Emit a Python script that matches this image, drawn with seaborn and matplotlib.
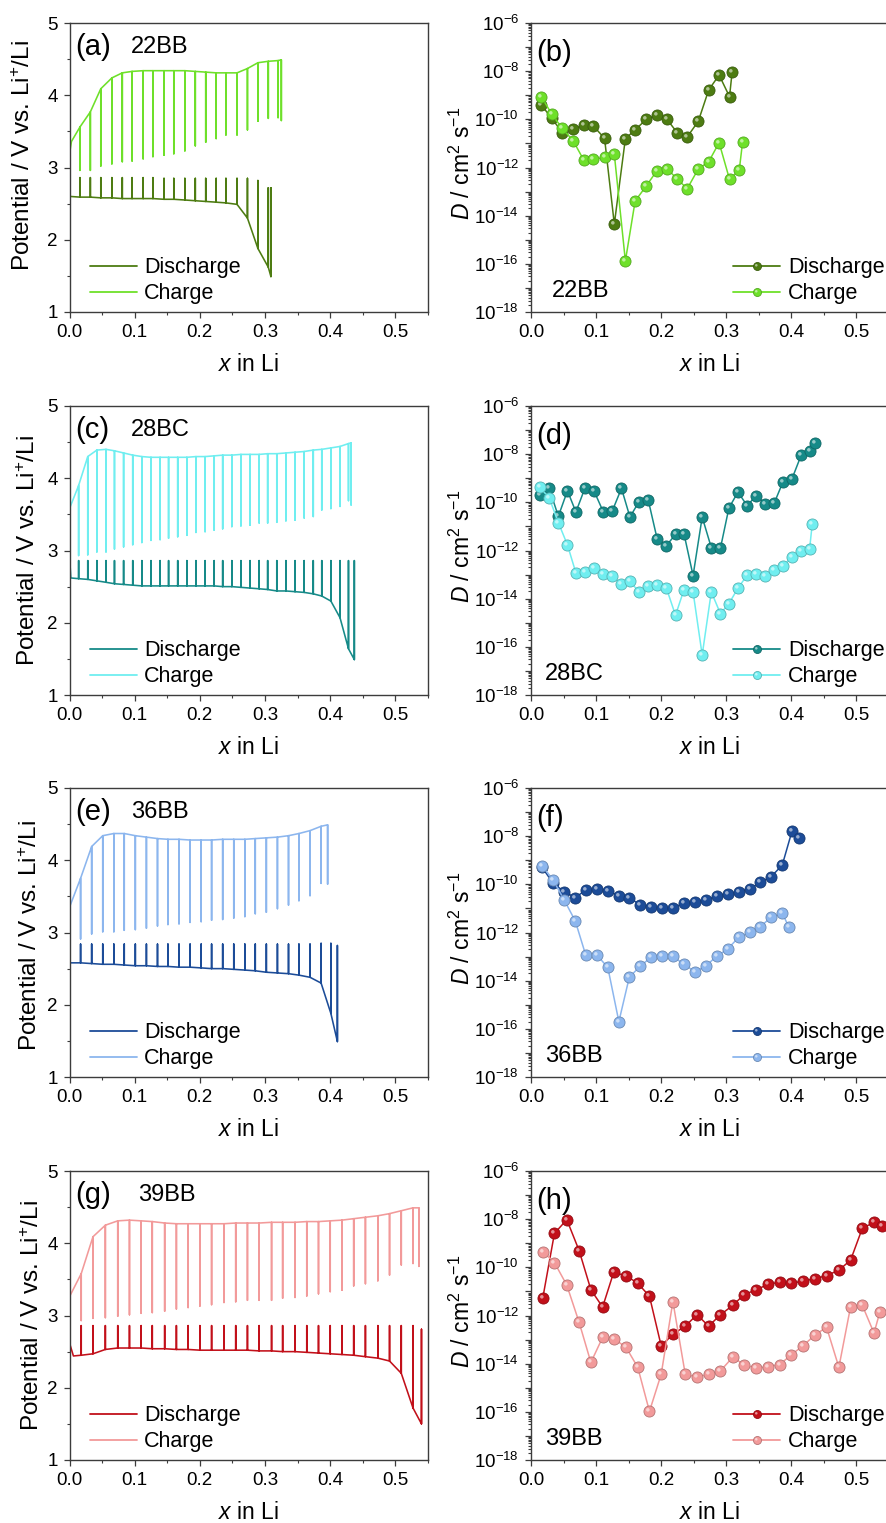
import numpy as np
import matplotlib
matplotlib.use("Agg")
import matplotlib.pyplot as plt
from matplotlib import ticker
from matplotlib.path import Path
from matplotlib.lines import Line2D
from matplotlib.legend_handler import HandlerTuple
from matplotlib.colors import to_rgb
import seaborn as sns

sns.set_theme(style="ticks")
plt.rcParams["font.family"] = ["Liberation Sans", "DejaVu Sans"]
plt.rcParams["mathtext.fontset"] = "custom"
plt.rcParams["mathtext.rm"] = "Liberation Sans"
plt.rcParams["mathtext.it"] = "Liberation Sans:italic"
plt.rcParams["mathtext.bf"] = "Liberation Sans:bold"
plt.rcParams["text.color"] = "black"
plt.rcParams["axes.labelcolor"] = "black"

# ---------------------------------------------------------------- 22BB
x_dis_22 = [0.016, 0.032, 0.048, 0.065, 0.081, 0.096, 0.113, 0.128, 0.145, 0.160,
            0.177, 0.193, 0.209, 0.225, 0.240, 0.257, 0.273, 0.289, 0.305, 0.309]
x_ch_22 = [0.016, 0.032, 0.048, 0.065, 0.081, 0.096, 0.113, 0.128, 0.145, 0.160,
           0.177, 0.193, 0.209, 0.225, 0.240, 0.257, 0.273, 0.289, 0.305, 0.320, 0.325]
logd_dis_22 = [-9.41, -9.96, -10.55, -10.40, -10.24, -10.28, -10.79, -14.35, -10.80, -10.44,
               -10.00, -9.83, -10.00, -10.57, -10.73, -10.08, -8.78, -8.16, -9.06, -8.03]
logd_ch_22 = [-9.06, -9.79, -10.37, -10.90, -11.69, -11.66, -11.58, -11.45, -15.88, -13.39,
              -12.77, -12.15, -12.05, -12.49, -12.88, -12.06, -11.76, -10.97, -12.49, -12.10, -10.95]
start_dis_22 = ([0.0], [2.60])
v_dis_base_22 = [2.59, 2.59, 2.58, 2.58, 2.57, 2.57, 2.57, 2.57, 2.56, 2.56,
                 2.55, 2.54, 2.53, 2.52, 2.51, 2.49, 2.30, 1.88, 1.62, 1.49]
v_dis_relax_22 = [2.86, 2.86, 2.86, 2.86, 2.86, 2.86, 2.86, 2.86, 2.85, 2.85,
                  2.85, 2.85, 2.85, 2.85, 2.85, 2.85, 2.85, 2.82, 2.72, 2.72]
start_ch_22 = ([0.0, 0.003], [3.19, 3.36])
v_ch_base_22 = [3.56, 3.77, 4.09, 4.24, 4.31, 4.33, 4.34, 4.34, 4.34, 4.34,
                4.34, 4.33, 4.32, 4.31, 4.31, 4.31, 4.37, 4.45, 4.47, 4.48, 4.49]
v_ch_relax_22 = [2.96, 2.96, 3.02, 3.05, 3.08, 3.09, 3.12, 3.15, 3.17, 3.19,
                 3.23, 3.30, 3.35, 3.40, 3.45, 3.45, 3.52, 3.64, 3.68, 3.69, 3.65]

# ---------------------------------------------------------------- 28BC
x_dis_28 = [0.014, 0.028, 0.042, 0.056, 0.069, 0.083, 0.097, 0.111, 0.125, 0.139,
            0.152, 0.166, 0.180, 0.194, 0.208, 0.222, 0.235, 0.249, 0.263, 0.277,
            0.291, 0.304, 0.318, 0.332, 0.346, 0.360, 0.374, 0.387, 0.401, 0.415,
            0.428, 0.437]
x_ch_28 = [0.014, 0.028, 0.042, 0.056, 0.069, 0.083, 0.097, 0.111, 0.125, 0.139,
           0.152, 0.166, 0.180, 0.194, 0.208, 0.222, 0.235, 0.249, 0.263, 0.277,
           0.291, 0.304, 0.318, 0.332, 0.346, 0.360, 0.374, 0.387, 0.401, 0.415,
           0.428, 0.432]
logd_dis_28 = [-9.71, -9.42, -10.58, -9.52, -10.40, -9.40, -9.54, -10.39, -10.35, -9.42,
               -10.61, -9.97, -9.89, -11.54, -11.80, -11.33, -11.30, -13.04, -10.61, -11.88,
               -11.91, -10.24, -9.57, -10.14, -9.72, -10.06, -10.01, -9.16, -9.02, -8.05,
               -7.85, -7.54]
logd_ch_28 = [-9.38, -9.82, -10.84, -11.77, -12.93, -12.89, -12.74, -12.98, -13.07, -13.38,
              -13.28, -13.72, -13.46, -13.45, -13.56, -14.69, -13.63, -13.72, -16.34, -13.72,
              -14.62, -14.21, -13.56, -13.03, -12.98, -13.07, -12.81, -12.64, -12.27, -12.01,
              -11.94, -10.91]
start_dis_28 = ([0.0, 0.002], [2.94, 2.62])
v_dis_base_28 = [2.61, 2.60, 2.58, 2.56, 2.54, 2.53, 2.52, 2.51, 2.51, 2.51,
                 2.51, 2.51, 2.51, 2.51, 2.51, 2.51, 2.50, 2.50, 2.49, 2.48,
                 2.47, 2.46, 2.44, 2.44, 2.43, 2.42, 2.40, 2.37, 2.30, 2.07,
                 1.64, 1.49]
v_dis_relax_28 = [2.86, 2.86, 2.86, 2.86, 2.86, 2.86, 2.86, 2.86, 2.86, 2.86,
                  2.86, 2.86, 2.86, 2.86, 2.86, 2.86, 2.86, 2.86, 2.86, 2.86,
                  2.86, 2.86, 2.86, 2.86, 2.86, 2.86, 2.86, 2.86, 2.86, 2.86,
                  2.86, 2.86]
start_ch_28 = ([0.0], [3.58])
v_ch_base_28 = [3.90, 4.30, 4.39, 4.40, 4.38, 4.35, 4.32, 4.30, 4.29, 4.29,
                4.29, 4.29, 4.29, 4.30, 4.30, 4.31, 4.32, 4.32, 4.33, 4.33,
                4.33, 4.34, 4.34, 4.35, 4.36, 4.37, 4.39, 4.40, 4.42, 4.44,
                4.48, 4.49]
v_ch_relax_28 = [2.93, 2.94, 2.98, 2.98, 3.02, 3.05, 3.08, 3.11, 3.14, 3.15,
                 3.17, 3.19, 3.21, 3.25, 3.26, 3.28, 3.30, 3.33, 3.34, 3.35,
                 3.38, 3.38, 3.39, 3.41, 3.42, 3.45, 3.47, 3.56, 3.58, 3.61,
                 3.69, 3.63]

# ---------------------------------------------------------------- 36BB
x_dis_36 = [0.017, 0.034, 0.051, 0.068, 0.084, 0.101, 0.118, 0.135, 0.151, 0.168,
            0.185, 0.202, 0.218, 0.235, 0.252, 0.269, 0.285, 0.302, 0.319, 0.336,
            0.352, 0.369, 0.386, 0.401, 0.411]
x_ch_36 = [0.017, 0.034, 0.051, 0.068, 0.084, 0.101, 0.118, 0.135, 0.151, 0.168,
           0.185, 0.202, 0.218, 0.235, 0.252, 0.269, 0.285, 0.302, 0.319, 0.336,
           0.352, 0.369, 0.386, 0.396]
logd_dis_36 = [-9.29, -9.96, -10.30, -10.55, -10.24, -10.19, -10.26, -10.48, -10.55, -10.86,
               -10.93, -11.00, -10.97, -10.79, -10.72, -10.66, -10.48, -10.42, -10.30, -10.19,
               -9.92, -9.68, -9.20, -7.79, -8.06]
logd_ch_36 = [-9.22, -9.82, -10.65, -11.52, -12.93, -12.93, -13.45, -15.70, -13.86, -13.39,
              -13.02, -12.99, -12.99, -13.32, -13.63, -13.38, -12.99, -12.69, -12.20, -11.99,
              -11.76, -11.37, -11.20, -11.76]
start_dis_36 = ([0.0], [2.58])
v_dis_base_36 = [2.58, 2.57, 2.56, 2.56, 2.55, 2.54, 2.54, 2.53, 2.53, 2.52,
                 2.52, 2.51, 2.50, 2.50, 2.49, 2.48, 2.47, 2.45, 2.44, 2.43,
                 2.41, 2.38, 2.30, 1.88, 1.49]
v_dis_relax_36 = [2.84, 2.84, 2.84, 2.84, 2.84, 2.84, 2.84, 2.84, 2.84, 2.84,
                  2.84, 2.84, 2.84, 2.84, 2.84, 2.84, 2.84, 2.84, 2.84, 2.84,
                  2.84, 2.84, 2.85, 2.85, 2.82]
start_ch_36 = ([0.0], [3.35])
v_ch_base_36 = [3.75, 4.19, 4.34, 4.37, 4.37, 4.34, 4.32, 4.30, 4.29, 4.29,
                4.28, 4.28, 4.28, 4.29, 4.29, 4.29, 4.30, 4.31, 4.32, 4.34,
                4.37, 4.41, 4.47, 4.49]
v_ch_relax_36 = [2.91, 2.98, 3.01, 3.01, 3.03, 3.04, 3.06, 3.09, 3.11, 3.12,
                 3.14, 3.15, 3.17, 3.18, 3.20, 3.22, 3.26, 3.28, 3.33, 3.38,
                 3.44, 3.51, 3.68, 3.67]

# ---------------------------------------------------------------- 39BB
x_dis_39 = [0.018, 0.036, 0.055, 0.074, 0.092, 0.110, 0.127, 0.146, 0.164, 0.182,
            0.200, 0.218, 0.237, 0.255, 0.273, 0.291, 0.310, 0.327, 0.346, 0.364,
            0.382, 0.400, 0.418, 0.436, 0.454, 0.473, 0.491, 0.509, 0.527, 0.540]
x_ch_39 = [0.018, 0.036, 0.055, 0.074, 0.092, 0.110, 0.127, 0.146, 0.164, 0.182,
           0.200, 0.218, 0.237, 0.255, 0.273, 0.291, 0.310, 0.327, 0.346, 0.364,
           0.382, 0.400, 0.418, 0.436, 0.454, 0.473, 0.491, 0.509, 0.527, 0.536]
logd_dis_39 = [-11.29, -8.59, -8.02, -9.31, -10.93, -11.65, -10.21, -10.35, -10.66, -11.20,
               -13.26, -12.78, -12.44, -11.97, -12.44, -11.97, -11.58, -11.14, -10.93, -10.71,
               -10.61, -10.67, -10.56, -10.48, -10.34, -10.12, -9.70, -8.38, -8.13, -8.29]
logd_ch_39 = [-9.35, -9.80, -10.74, -12.29, -13.95, -12.91, -12.96, -13.32, -14.15, -15.98,
              -14.44, -11.42, -14.44, -14.56, -14.44, -14.30, -13.73, -14.04, -14.19, -14.12,
              -14.04, -13.63, -13.25, -12.82, -12.48, -14.15, -11.63, -11.58, -12.73, -11.85]
start_dis_39 = ([0.0, 0.006], [2.62, 2.44])
v_dis_base_39 = [2.45, 2.47, 2.53, 2.55, 2.55, 2.55, 2.54, 2.54, 2.53, 2.53,
                 2.52, 2.52, 2.52, 2.52, 2.52, 2.51, 2.51, 2.50, 2.50, 2.49,
                 2.48, 2.47, 2.46, 2.45, 2.43, 2.41, 2.37, 2.20, 1.72, 1.50]
v_dis_relax_39 = [2.86, 2.86, 2.86, 2.86, 2.86, 2.86, 2.86, 2.86, 2.86, 2.86,
                  2.86, 2.86, 2.86, 2.86, 2.86, 2.86, 2.86, 2.86, 2.86, 2.86,
                  2.86, 2.86, 2.86, 2.86, 2.86, 2.86, 2.86, 2.86, 2.86, 2.81]
start_ch_39 = ([0.0], [3.26])
v_ch_base_39 = [3.58, 4.09, 4.25, 4.31, 4.32, 4.31, 4.30, 4.28, 4.27, 4.27,
                4.27, 4.27, 4.27, 4.28, 4.28, 4.28, 4.29, 4.29, 4.29, 4.30,
                4.30, 4.31, 4.32, 4.34, 4.36, 4.38, 4.41, 4.45, 4.49, 4.49]
v_ch_relax_39 = [2.93, 2.96, 2.97, 2.99, 3.01, 3.03, 3.04, 3.06, 3.09, 3.11,
                 3.13, 3.15, 3.18, 3.19, 3.21, 3.21, 3.21, 3.24, 3.25, 3.27,
                 3.30, 3.33, 3.35, 3.41, 3.44, 3.48, 3.56, 3.70, 3.72, 3.68]

samples = ["22BB", "28BC", "36BB", "39BB"]
panel_tags = [("(a)", "(b)"), ("(c)", "(d)"), ("(e)", "(f)"), ("(g)", "(h)")]
dis_colors = ["#4d7c12", "#168a88", "#1c4c98", "#c2101a"]
ch_colors = ["#6ee02a", "#70eef0", "#8cb6ee", "#f29a9a"]

series = [
    dict(xd=x_dis_22, xc=x_ch_22, dd=logd_dis_22, dc=logd_ch_22,
         sd=start_dis_22, bd=v_dis_base_22, rd=v_dis_relax_22,
         sc=start_ch_22, bc=v_ch_base_22, rc=v_ch_relax_22),
    dict(xd=x_dis_28, xc=x_ch_28, dd=logd_dis_28, dc=logd_ch_28,
         sd=start_dis_28, bd=v_dis_base_28, rd=v_dis_relax_28,
         sc=start_ch_28, bc=v_ch_base_28, rc=v_ch_relax_28),
    dict(xd=x_dis_36, xc=x_ch_36, dd=logd_dis_36, dc=logd_ch_36,
         sd=start_dis_36, bd=v_dis_base_36, rd=v_dis_relax_36,
         sc=start_ch_36, bc=v_ch_base_36, rc=v_ch_relax_36),
    dict(xd=x_dis_39, xc=x_ch_39, dd=logd_dis_39, dc=logd_ch_39,
         sd=start_dis_39, bd=v_dis_base_39, rd=v_dis_relax_39,
         sc=start_ch_39, bc=v_ch_base_39, rc=v_ch_relax_39),
]


def gitt_trace(start, x_pulse, v_base, v_relax):
    """Closed-circuit curve with a vertical relaxation step at every pulse."""
    xs, vs = list(start[0]), list(start[1])
    for x, b, r in zip(x_pulse, v_base, v_relax):
        xs += [x, x, x]
        vs += [b, r, b]
    return np.array(xs), np.array(vs)


def shade(color, amount):
    rgb = np.array(to_rgb(color))
    if amount >= 0:
        return tuple(rgb + (1 - rgb) * amount)
    return tuple(rgb * (1 + amount))


# small off-centre glint drawn on top of each round marker
_circ = Path.circle(center=(-0.30, 0.30), radius=0.32)
glint = Path(np.vstack([[[1.0, 1.0]], [[-1.0, -1.0]], _circ.vertices]),
             np.concatenate([[Path.MOVETO, Path.MOVETO], _circ.codes]))

SPINE = "#3c3c3c"
W, H = 886, 1523
fig = plt.figure(figsize=(W / 100, H / 100), dpi=100)
fig.patch.set_facecolor("white")

row_tops = [23, 406, 788, 1171]
AX_H = 289
V_LEFT, V_RIGHT = 69.5, 428
D_LEFT, D_RIGHT = 531, 889
v_ylab_x = [-0.095, -0.082, -0.076, -0.071]
v_ylab_y = [0.54, 0.50, 0.49, 0.50]
d_ylab_x = [-0.158, -0.158, -0.158, -0.158]
v_name_x = [0.172, 0.172, 0.172, 0.190]
d_name_x = [0.058, 0.039, 0.039, 0.039]

TICK_FS = 13.5
LAB_FS = 16.5
VLAB_FS = 17.5
LEG_FS = 15.5
MS = 8.0


def style_axes(ax):
    for s in ax.spines.values():
        s.set_color(SPINE)
        s.set_linewidth(1.0)
    ax.tick_params(axis="both", which="major", direction="out", length=4.5, width=0.9,
                   color=SPINE, labelsize=TICK_FS, pad=4, labelcolor="black")
    ax.tick_params(axis="both", which="minor", direction="out", length=2.5, width=0.8,
                   color=SPINE)
    ax.tick_params(top=False, right=False, which="both")
    ax.set_facecolor("white")
    ax.grid(False)
    ax.set_xlim(0, 0.55)
    ax.xaxis.set_major_locator(ticker.MultipleLocator(0.1))
    ax.xaxis.set_minor_locator(ticker.MultipleLocator(0.05))
    ax.xaxis.set_major_formatter(ticker.FormatStrFormatter("%.1f"))
    ax.set_xlabel(r"$x$ in Li", fontsize=LAB_FS)
    ax.xaxis.set_label_coords(0.5, -0.142)


def decade_label(v, pos):
    e = int(round(np.log10(v)))
    return r"$\mathregular{10^{%d}}$" % e if e % 2 == 0 else ""


for i, s in enumerate(series):
    top = row_tops[i]
    y0 = 1 - (top + AX_H) / H
    axv = fig.add_axes([V_LEFT / W, y0, (V_RIGHT - V_LEFT) / W, AX_H / H])
    axd = fig.add_axes([D_LEFT / W, y0, (D_RIGHT - D_LEFT) / W, AX_H / H])
    cd, cc = dis_colors[i], ch_colors[i]

    # ---- GITT potential profile
    style_axes(axv)
    xd_t, vd_t = gitt_trace(s["sd"], s["xd"], s["bd"], s["rd"])
    xc_t, vc_t = gitt_trace(s["sc"], s["xc"], s["bc"], s["rc"])
    sns.lineplot(x=xd_t, y=vd_t, sort=False, estimator=None, color=cd,
                 linewidth=1.15, ax=axv, legend=False)
    sns.lineplot(x=xc_t, y=vc_t, sort=False, estimator=None, color=cc,
                 linewidth=1.15, ax=axv, legend=False)
    axv.set_ylim(1, 5)
    axv.yaxis.set_major_locator(ticker.MultipleLocator(1))
    axv.yaxis.set_minor_locator(ticker.MultipleLocator(0.5))
    axv.set_ylabel(r"Potential / V vs. Li$^{+}$/Li", fontsize=VLAB_FS)
    axv.yaxis.set_label_coords(v_ylab_x[i], v_ylab_y[i])
    axv.text(0.015, 0.889, panel_tags[i][0], fontsize=21, transform=axv.transAxes,
             ha="left", va="baseline")
    axv.text(v_name_x[i], 0.897, samples[i], fontsize=17, transform=axv.transAxes,
             ha="left", va="baseline")
    vh = [Line2D([], [], color=cd, lw=1.3), Line2D([], [], color=cc, lw=1.3)]
    axv.legend(vh, ["Discharge", "Charge"], loc="center left",
               bbox_to_anchor=(0.057, 0.108), frameon=False, fontsize=LEG_FS,
               borderpad=0, borderaxespad=0, handlelength=2.2, handletextpad=0.32,
               labelspacing=0.24)

    # ---- chemical diffusion coefficient
    style_axes(axd)
    axd.set_yscale("log")
    for xs, ld, col in ((s["xd"], s["dd"], cd), (s["xc"], s["dc"], cc)):
        dvals = 10.0 ** np.array(ld)
        sns.lineplot(x=xs, y=dvals, sort=False, estimator=None, color=col,
                     linewidth=1.1, marker="o", markersize=MS,
                     markeredgecolor=shade(col, -0.25), markeredgewidth=0.6,
                     ax=axd, legend=False)
        axd.plot(xs, dvals, ls="none", marker=glint, markersize=MS,
                 color=shade(col, 0.55), markeredgewidth=0)
    axd.set_ylim(1e-18, 1e-6)
    axd.yaxis.set_major_locator(ticker.LogLocator(base=10, numticks=30))
    axd.yaxis.set_minor_locator(ticker.LogLocator(base=10, subs=np.arange(2, 10),
                                                  numticks=30))
    axd.yaxis.set_major_formatter(ticker.FuncFormatter(decade_label))
    axd.yaxis.set_minor_formatter(ticker.NullFormatter())
    axd.set_ylabel(r"$D$ / cm$^{2}$ s$^{-1}$", fontsize=LAB_FS)
    axd.yaxis.set_label_coords(d_ylab_x[i], 0.515)
    axd.text(0.016, 0.868, panel_tags[i][1], fontsize=21, transform=axd.transAxes,
             ha="left", va="baseline")
    axd.text(d_name_x[i], 0.051, samples[i], fontsize=17, transform=axd.transAxes,
             ha="left", va="baseline")
    dh = []
    for col in (cd, cc):
        main = Line2D([], [], color=col, lw=1.3, marker="o", markersize=MS,
                      markeredgecolor=shade(col, -0.25), markeredgewidth=0.6)
        hi = Line2D([], [], ls="none", marker=glint, markersize=MS,
                    color=shade(col, 0.55), markeredgewidth=0)
        dh.append((main, hi))
    axd.legend(dh, ["Discharge", "Charge"], handler_map={tuple: HandlerTuple(ndivide=1)},
               loc="center left", bbox_to_anchor=(0.564, 0.108), frameon=False,
               fontsize=LEG_FS, borderpad=0, borderaxespad=0, handlelength=2.2,
               handletextpad=0.35, labelspacing=0.24, markerscale=0.72, numpoints=1)

fig.savefig("out.png", dpi=100, facecolor="white")
